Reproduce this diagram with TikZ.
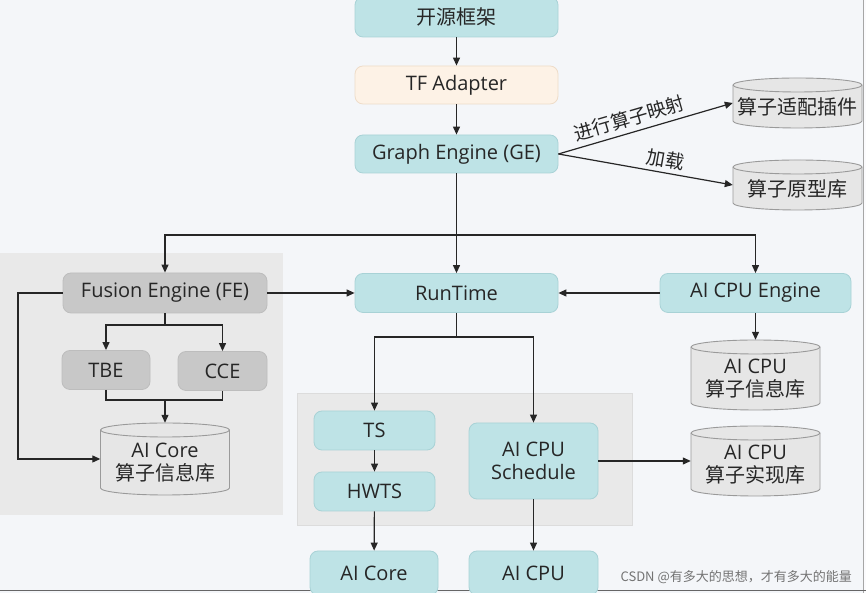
\documentclass[tikz,border=0pt]{standalone}
\usepackage{fontspec}
\setmainfont{Open Sans}
\newfontfamily\cjk{Noto Sans CJK SC}
\usetikzlibrary{arrows.meta}
\definecolor{bgc}{HTML}{F4F6F9}
\definecolor{panelc}{HTML}{E9E9E9}
\definecolor{panelb}{HTML}{DCDCDC}
\definecolor{tealf}{HTML}{BEE3E6}
\definecolor{tealb}{HTML}{A8D2D6}
\definecolor{grayf}{HTML}{C8C8C8}
\definecolor{grayb}{HTML}{BDBDBD}
\definecolor{peachf}{HTML}{FDF2E6}
\definecolor{peachb}{HTML}{EEDCC8}
\definecolor{cylf}{HTML}{E6E6E6}
\definecolor{cylb}{HTML}{9A9A9A}
\definecolor{txt}{HTML}{262626}
\newcommand\boxfont{\fontsize{20}{23}\selectfont}
\newcommand\dbcyl[6]{%
  \path[fill=cylf,draw=cylb,line width=0.9pt] ({#2-#4/2},{#3+#5/2-7}) -- ({#2-#4/2},{#3-#5/2+7})
    arc[start angle=180,end angle=360,x radius={#4/2},y radius=7] -- ({#2+#4/2},{#3+#5/2-7})
    arc[start angle=0,end angle=180,x radius={#4/2},y radius=7] -- cycle;
  \draw[draw=cylb,line width=0.9pt] ({#2-#4/2},{#3+#5/2-7}) arc[start angle=180,end angle=360,x radius={#4/2},y radius=7];
  \node[minimum width=#4,minimum height=#5,inner sep=0pt] (#1) at (#2,#3) {};
  \node[align=center,text=txt,font=\boxfont,inner sep=0pt] (#1-t) at (#2,{#3-4}) {#6};
}
\tikzset{
  box/.style={rounded corners=8pt,draw=tealb,fill=tealf,line width=0.8pt,text=txt,font=\boxfont,inner sep=0pt,align=center},
  gbox/.style={box,fill=grayf,draw=grayb},
  pbox/.style={box,fill=peachf,draw=peachb},
  arr/.style={-{Triangle[length=8pt,width=7pt]},line width=1.2pt,draw=black!85},
  ln/.style={line width=1.2pt,draw=black!85},
  elab/.style={font=\cjk\fontsize{19}{22}\selectfont,text=txt,inner sep=2pt},
}
\begin{document}
\begin{tikzpicture}[x=1pt,y=1pt]
\useasboundingbox (0,0) rectangle (866,593);
\fill[bgc] (0,0) rectangle (866,593);
\fill[white!60!bgc] (863,0) rectangle (866,593);
\draw[gray!70,line width=0.8pt] (863,0) -- (863,593);
\draw[black!60,line width=1pt] (0,2) -- (866,2);
% panels
\path[fill=panelc] (0,78) rectangle (283,340);
\path[fill=panelc,draw=panelb,line width=0.6pt] (297,68) rectangle (632,200);
% main column
\node[box,minimum width=203,minimum height=40,font=\cjk\boxfont] (kyj) at (456.5,576) {开源框架};
\node[pbox,minimum width=203,minimum height=38] (tfa) at (456.5,508) {TF Adapter};
\node[box,minimum width=203,minimum height=38] (ge) at (456.5,439) {Graph Engine (GE)};
\dbcyl{plugin}{797.5}{490}{129}{50}{\cjk 算子适配插件}
\dbcyl{proto}{797.5}{408}{129}{50}{\cjk 算子原型库}
% engines row
\node[gbox,minimum width=204,minimum height=40] (fe) at (165,300) {Fusion Engine (FE)};
\node[box,minimum width=203,minimum height=39] (rt) at (456.5,300) {RunTime};
\node[box,minimum width=191,minimum height=39] (aice) at (755.5,300) {AI CPU Engine};
% left panel
\node[gbox,minimum width=88,minimum height=39] (tbe) at (106,223) {TBE};
\node[gbox,minimum width=89,minimum height=39] (cce) at (222.5,222) {CCE};
\dbcyl{aicinfo}{165}{134}{129}{72}{AI Core\\{\cjk 算子信息库}}
% right cylinders
\dbcyl{cpuinfo}{755.5}{218}{129}{70}{AI CPU\\{\cjk 算子信息库}}
\dbcyl{cpuimpl}{755.5}{132}{129}{70}{AI CPU\\{\cjk 算子实现库}}
% lower panel
\node[box,minimum width=121,minimum height=39] (ts) at (374.5,162.5) {TS};
\node[box,minimum width=121,minimum height=39] (hwts) at (374.5,101.5) {HWTS};
\node[box,minimum width=129,minimum height=76] (sched) at (533.5,132) {AI CPU\\Schedule};
\node[box,minimum width=128,minimum height=44] (aicoreb) at (374,20) {AI Core};
\node[box,minimum width=129,minimum height=44] (aicpub) at (533.5,20) {AI CPU};
% watermark
\node[font=\cjk\fontsize{13}{15}\selectfont,text=black!55,anchor=east,inner sep=0pt] (wm) at (852,16) {CSDN @有多大的思想，才有多大的能量};
% connectors
\draw[arr] (kyj) -- (tfa);
\draw[arr] (tfa) -- (ge);
\draw[arr] (ge.east) -- (plugin.west) node[elab,pos=0.43,above=3pt,sloped] {进行算子映射};
\draw[arr] (ge.east) -- (proto.west) node[elab,pos=0.6,above=2pt,sloped] {加载};
\coordinate (gesplit) at (456.5,358);
\draw[ln] (ge.south) -- (gesplit);
\draw[arr] (gesplit) -| (fe.north);
\draw[arr] (gesplit) -| (aice.north);
\draw[arr] (gesplit) -- (rt.north);
\draw[arr] (fe.east) -- (rt.west);
\draw[arr] (aice.west) -- (rt.east);
\draw[arr] (aice.south) -- (cpuinfo.north);
\coordinate (loopx) at (18,0);
\draw[arr] (fe.west) -| (loopx |- aicinfo.west) -- (aicinfo.west);
\coordinate (fesplit) at (165,268);
\draw[ln] (fe.south) -- (fesplit);
\draw[arr] (fesplit) -| (tbe.north);
\draw[arr] (fesplit) -| (cce.north);
\coordinate (merge) at (165,193);
\draw[ln] (tbe.south) |- (merge) -| (cce.south);
\draw[arr] (merge) -- (aicinfo.north);
\coordinate (rtsplit) at (456.5,256);
\draw[ln] (rt.south) -- (rtsplit);
\draw[arr] (rtsplit) -| (ts.north);
\draw[arr] (rtsplit) -| (sched.north);
\draw[arr] (ts) -- (hwts);
\draw[arr] (hwts) -- (aicoreb);
\draw[arr] (sched) -- (aicpub);
\draw[arr] (sched.east) -- (cpuimpl.west);
\end{tikzpicture}
\end{document}
